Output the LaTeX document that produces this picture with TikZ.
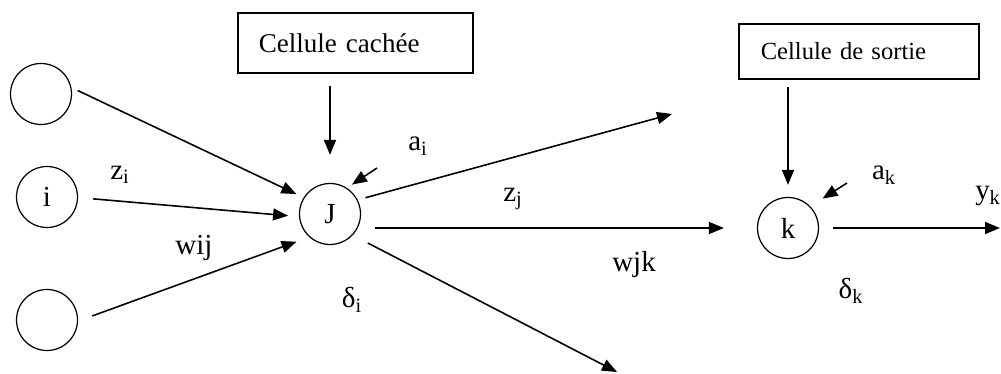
\documentclass[tikz,border=0pt]{standalone}
\usepackage{fontspec}
\setmainfont{Liberation Serif}
\usetikzlibrary{arrows.meta}
\begin{document}
\begin{tikzpicture}[x=0.02cm, y=-0.02cm, >={Triangle[length=0.3cm, width=0.24cm]},
  neuron/.style={draw, circle, minimum size=1.22cm, inner sep=0pt, line width=0.7pt, font=\fontsize{16.5}{18}\selectfont},
  cellbox/.style={draw, rectangle, align=left, line width=0.9pt, anchor=west},
  lbl/.style={inner sep=0pt, font=\fontsize{16.5}{18}\selectfont},
  link/.style={->, line width=0.9pt}]
\useasboundingbox (0,0) rectangle (1001,374);
\node[neuron] (n1) at (41,94) {};
\node[neuron] (i) at (47,197) {i};
\node[neuron] (n3) at (47,320) {};
\node[neuron] (J) at (330,214) {J};
\node[neuron] (k) at (788,228) {k};
\node[cellbox, text width=3.86cm, inner xsep=0.42cm, minimum height=1.2cm, font=\fontsize{15.4}{18}\selectfont] (hidden) at (237,43) {Cellule cachée};
\node[cellbox, text width=3.92cm, inner xsep=0.44cm, minimum height=1.1cm, font=\fontsize{14}{17}\selectfont] (output) at (738,51.5) {Cellule de sortie};
\coordinate (up) at (672,114);
\coordinate (down) at (617,372);
\coordinate (yout) at (1000,228);
\coordinate (ain) at (377,168);
\coordinate (akin) at (847,183);
% inputs of J
\draw[link, shorten <=0.14cm, shorten >=0.16cm] (n1.12) -- (J.148);
\draw[link, shorten <=0.3cm, shorten >=0.22cm] (i.-1) -- (J.185);
\draw[link, shorten <=0.3cm, shorten >=0.27cm] (n3.-2) -- (J.228);
\draw[link, shorten <=0.24cm, shorten >=0.56cm] (J |- hidden.south) -- (J.north);
\draw[link, shorten >=0.12cm] (ain) -- (J.57);
% outputs of J
\draw[link, shorten <=0.16cm] (J.27) -- (up);
\draw[link, shorten <=0.28cm, shorten >=0.66cm] (J.east |- k.west) -- (k.west);
\draw[link, shorten <=0.34cm] (J.-43) -- (down);
% cell k
\draw[link, shorten <=0.14cm, shorten >=0.24cm] (k |- output.south) -- (k.north);
\draw[link, shorten >=0.29cm] (akin) -- (k.44);
\draw[link, shorten <=0.28cm] (k.east) -- (yout);
% labels
\node[lbl] (zi) at (120,175) {z\textsubscript{i}};
\node[lbl] (wij) at (194,248) {wij};
\node[lbl] (di) at (352,300) {δ\textsubscript{i}};
\node[lbl] (ai) at (418,146) {a\textsubscript{i}};
\node[lbl] (zj) at (513,199) {z\textsubscript{j}};
\node[lbl] (wjk) at (634,265) {wjk};
\node[lbl] (ak) at (884,175) {a\textsubscript{k}};
\node[lbl] (yk) at (988,196) {y\textsubscript{k}};
\node[lbl] (dk) at (851,291) {δ\textsubscript{k}};
\end{tikzpicture}
\end{document}
